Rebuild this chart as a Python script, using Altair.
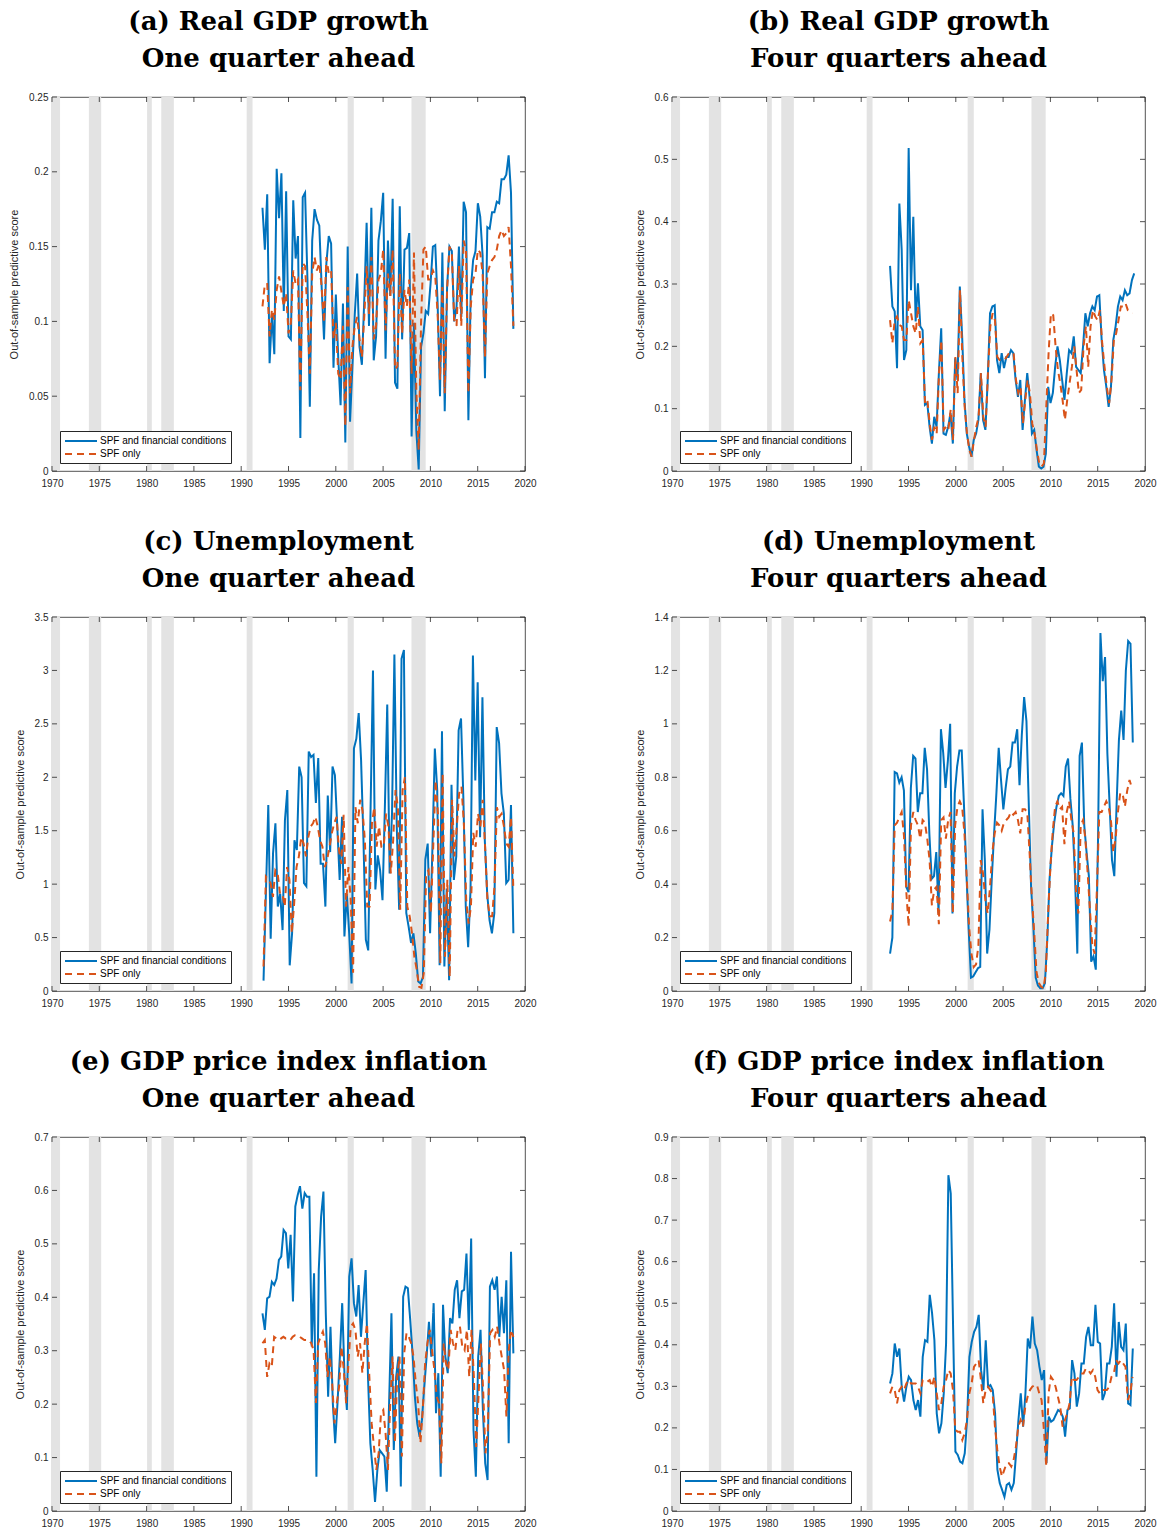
import altair as alt
import numpy as np
import pandas as pd

S1 = "SPF and financial conditions"
S2 = "SPF only"
BLUE = "#0072BD"
RED = "#D95319"
YTITLE = "Out-of-sample predictive score"

year_ticks = [1970, 1975, 1980, 1985, 1990, 1995, 2000, 2005, 2010, 2015, 2020]
rec_start = [1969.9, 1973.9, 1980.05, 1981.55, 1990.58, 2001.25, 2008.0]
rec_end = [1970.85, 1975.2, 1980.55, 1982.88, 1991.2, 2001.9, 2009.5]

titles = [
    ["(a) Real GDP growth", "One quarter ahead"],
    ["(b) Real GDP growth", "Four quarters ahead"],
    ["(c) Unemployment", "One quarter ahead"],
    ["(d) Unemployment", "Four quarters ahead"],
    ["(e) GDP price index inflation", "One quarter ahead"],
    ["(f) GDP price index inflation", "Four quarters ahead"],
]

a_blue = [0.176,0.148,0.185,0.072,0.105,0.078,0.202,0.169,0.199,0.107,0.187,0.090,0.088,0.181,0.142,0.157,0.022,0.183,0.186,0.128,0.043,0.154,0.175,0.168,0.164,0.123,0.088,0.139,0.157,0.152,0.069,0.118,0.076,0.044,0.112,0.019,0.150,0.033,0.070,0.105,0.132,0.083,0.071,0.114,0.166,0.097,0.176,0.074,0.090,0.154,0.167,0.186,0.075,0.154,0.117,0.182,0.059,0.055,0.177,0.088,0.148,0.149,0.159,0.023,0.099,0.027,0.001,0.083,0.092,0.107,0.105,0.125,0.150,0.151,0.112,0.050,0.146,0.040,0.123,0.150,0.147,0.100,0.110,0.150,0.103,0.180,0.173,0.034,0.121,0.141,0.147,0.179,0.170,0.144,0.062,0.163,0.162,0.173,0.173,0.180,0.179,0.195,0.195,0.198,0.211,0.186,0.095]
a_red = [0.110,0.125,0.125,0.090,0.108,0.101,0.121,0.130,0.120,0.110,0.119,0.092,0.099,0.134,0.125,0.128,0.054,0.139,0.137,0.105,0.065,0.132,0.143,0.134,0.139,0.123,0.099,0.143,0.132,0.134,0.088,0.099,0.065,0.061,0.097,0.030,0.123,0.052,0.083,0.097,0.103,0.088,0.076,0.103,0.137,0.105,0.143,0.088,0.097,0.128,0.132,0.148,0.094,0.132,0.117,0.148,0.068,0.070,0.132,0.092,0.121,0.110,0.128,0.065,0.146,0.054,0.014,0.099,0.148,0.150,0.128,0.128,0.134,0.130,0.105,0.061,0.123,0.052,0.121,0.150,0.146,0.101,0.097,0.137,0.097,0.154,0.148,0.052,0.110,0.128,0.132,0.148,0.146,0.132,0.076,0.132,0.137,0.141,0.143,0.148,0.157,0.161,0.157,0.159,0.163,0.137,0.097]

b_blue = [0.329,0.264,0.256,0.165,0.429,0.355,0.178,0.194,0.518,0.290,0.408,0.240,0.301,0.232,0.226,0.106,0.109,0.071,0.044,0.087,0.071,0.157,0.229,0.060,0.058,0.071,0.093,0.044,0.181,0.146,0.296,0.216,0.114,0.060,0.039,0.023,0.050,0.060,0.082,0.157,0.082,0.066,0.146,0.253,0.264,0.266,0.178,0.157,0.189,0.165,0.183,0.183,0.194,0.189,0.146,0.119,0.146,0.066,0.114,0.157,0.119,0.060,0.066,0.034,0.007,0.004,0.007,0.028,0.135,0.109,0.125,0.167,0.200,0.178,0.146,0.114,0.157,0.194,0.189,0.216,0.167,0.162,0.157,0.200,0.253,0.232,0.253,0.264,0.258,0.280,0.282,0.210,0.162,0.135,0.103,0.135,0.210,0.232,0.264,0.280,0.274,0.290,0.282,0.285,0.306,0.317]
b_red = [0.242,0.205,0.242,0.248,0.234,0.232,0.210,0.210,0.274,0.253,0.232,0.221,0.264,0.205,0.210,0.109,0.114,0.076,0.050,0.071,0.060,0.157,0.210,0.066,0.071,0.066,0.098,0.050,0.183,0.125,0.290,0.183,0.103,0.060,0.034,0.023,0.050,0.071,0.087,0.157,0.087,0.071,0.157,0.232,0.253,0.242,0.183,0.178,0.178,0.178,0.183,0.189,0.189,0.189,0.146,0.125,0.135,0.076,0.114,0.146,0.125,0.076,0.060,0.034,0.012,0.007,0.012,0.103,0.189,0.253,0.250,0.200,0.162,0.141,0.114,0.082,0.114,0.141,0.167,0.200,0.162,0.125,0.130,0.200,0.232,0.167,0.232,0.258,0.248,0.242,0.258,0.205,0.167,0.135,0.109,0.146,0.210,0.221,0.242,0.264,0.264,0.269,0.258,0.256,0.253]

c_blue = [0.097,0.914,1.74,0.49,1.29,1.57,0.79,0.91,0.57,1.60,1.88,0.24,0.54,1.41,1.32,2.10,2.00,1.01,0.98,2.24,2.19,2.21,1.76,2.18,1.19,1.19,0.79,1.83,1.30,2.10,2.02,1.54,1.04,1.63,0.51,0.91,0.54,0.07,2.27,2.36,2.60,2.16,1.41,0.48,0.38,1.72,3.00,0.95,1.27,1.13,0.85,1.72,2.68,1.10,1.66,3.15,1.54,0.76,3.11,3.19,0.73,0.60,0.45,0.54,0.35,0.09,0.07,0.13,1.23,1.38,0.54,1.35,2.27,1.88,0.24,2.43,0.23,0.96,0.10,1.93,1.04,1.26,2.44,2.55,1.79,0.79,0.41,0.95,3.14,1.97,2.89,1.44,2.75,1.41,0.91,0.66,0.54,0.73,2.47,2.32,1.85,1.66,1.01,1.04,1.74,0.54]
c_red = [0.23,1.07,1.04,1.01,0.88,1.13,1.10,0.91,0.91,0.79,1.16,1.04,0.54,0.82,1.16,1.26,1.44,1.38,1.26,1.44,1.54,1.57,1.63,1.54,1.41,1.35,1.16,1.23,1.35,1.48,1.57,1.63,1.32,1.19,1.65,0.79,1.16,0.85,0.17,1.72,1.57,1.79,1.69,1.41,0.79,0.79,1.57,1.72,1.35,1.54,1.35,1.35,1.66,1.54,1.10,1.41,1.88,1.72,0.76,1.88,2.00,0.79,0.70,0.54,0.32,0.20,0.04,0.03,0.17,1.10,1.13,0.73,1.35,1.97,1.66,0.26,2.04,0.32,1.04,0.13,1.79,1.26,1.54,1.85,1.91,1.57,0.85,0.63,0.79,1.48,1.35,1.66,1.54,1.79,1.35,0.85,0.70,0.70,0.98,1.72,1.63,1.66,1.54,1.38,1.35,1.63,0.95]

d_blue = [0.14,0.20,0.82,0.815,0.78,0.80,0.75,0.39,0.37,0.76,0.88,0.87,0.67,0.74,0.74,0.91,0.83,0.59,0.42,0.43,0.52,0.29,0.98,0.89,0.76,0.86,1.00,0.29,0.74,0.84,0.90,0.90,0.69,0.45,0.23,0.05,0.055,0.07,0.085,0.09,0.68,0.49,0.14,0.23,0.42,0.59,0.74,0.91,0.79,0.68,0.76,0.83,0.84,0.93,0.93,0.98,0.77,0.96,1.10,1.01,0.70,0.39,0.24,0.05,0.02,0.01,0.01,0.03,0.19,0.42,0.54,0.63,0.69,0.73,0.74,0.73,0.84,0.87,0.72,0.62,0.43,0.14,0.88,0.93,0.62,0.52,0.43,0.11,0.13,0.08,0.59,1.34,1.16,1.25,0.89,0.69,0.49,0.43,0.70,0.94,1.05,0.94,1.20,1.31,1.30,0.93]
d_red = [0.26,0.30,0.62,0.63,0.65,0.67,0.58,0.37,0.24,0.62,0.67,0.64,0.62,0.57,0.64,0.63,0.57,0.49,0.32,0.38,0.39,0.25,0.64,0.65,0.57,0.64,0.67,0.29,0.62,0.69,0.71,0.69,0.59,0.42,0.24,0.14,0.09,0.10,0.17,0.49,0.44,0.34,0.29,0.39,0.52,0.59,0.63,0.62,0.60,0.63,0.64,0.65,0.67,0.66,0.67,0.64,0.59,0.68,0.68,0.67,0.52,0.35,0.22,0.07,0.03,0.016,0.01,0.07,0.29,0.47,0.60,0.69,0.71,0.68,0.69,0.55,0.67,0.71,0.64,0.59,0.37,0.29,0.62,0.64,0.57,0.44,0.30,0.17,0.14,0.39,0.67,0.67,0.69,0.71,0.69,0.64,0.52,0.57,0.67,0.74,0.74,0.69,0.75,0.79,0.76]

e_blue = [0.370,0.339,0.398,0.401,0.429,0.423,0.435,0.470,0.476,0.526,0.520,0.454,0.517,0.392,0.570,0.591,0.608,0.566,0.595,0.588,0.588,0.308,0.445,0.064,0.451,0.551,0.598,0.370,0.214,0.345,0.202,0.127,0.202,0.289,0.389,0.251,0.189,0.439,0.473,0.389,0.364,0.423,0.326,0.389,0.451,0.251,0.127,0.077,0.017,0.077,0.114,0.108,0.102,0.036,0.202,0.370,0.114,0.251,0.289,0.046,0.401,0.420,0.417,0.358,0.295,0.214,0.164,0.139,0.170,0.233,0.289,0.354,0.289,0.389,0.183,0.258,0.064,0.386,0.289,0.258,0.361,0.351,0.414,0.432,0.361,0.411,0.414,0.482,0.339,0.510,0.152,0.064,0.289,0.339,0.189,0.089,0.058,0.420,0.432,0.414,0.439,0.326,0.401,0.333,0.432,0.127,0.485,0.295]
e_red = [0.314,0.320,0.251,0.276,0.270,0.326,0.323,0.326,0.323,0.326,0.323,0.323,0.320,0.326,0.329,0.329,0.326,0.323,0.320,0.320,0.320,0.314,0.301,0.202,0.314,0.326,0.336,0.314,0.251,0.289,0.239,0.164,0.202,0.233,0.308,0.264,0.202,0.276,0.345,0.351,0.339,0.289,0.314,0.258,0.314,0.351,0.251,0.164,0.120,0.077,0.108,0.183,0.189,0.145,0.077,0.202,0.289,0.127,0.251,0.289,0.102,0.295,0.333,0.326,0.314,0.289,0.239,0.202,0.127,0.189,0.276,0.314,0.339,0.301,0.264,0.214,0.202,0.089,0.314,0.276,0.264,0.339,0.314,0.301,0.339,0.345,0.308,0.301,0.339,0.251,0.339,0.251,0.120,0.214,0.314,0.226,0.108,0.152,0.333,0.339,0.326,0.345,0.314,0.289,0.264,0.177,0.301,0.339,0.326]

f_blue = [0.307,0.331,0.403,0.371,0.391,0.299,0.263,0.299,0.323,0.315,0.267,0.243,0.267,0.227,0.371,0.411,0.407,0.520,0.476,0.411,0.235,0.187,0.211,0.283,0.403,0.808,0.764,0.443,0.143,0.135,0.119,0.115,0.139,0.219,0.371,0.407,0.431,0.443,0.472,0.339,0.291,0.411,0.299,0.303,0.291,0.235,0.099,0.067,0.051,0.034,0.063,0.067,0.051,0.067,0.139,0.219,0.283,0.203,0.283,0.415,0.391,0.468,0.403,0.387,0.347,0.315,0.339,0.115,0.227,0.215,0.219,0.231,0.243,0.239,0.227,0.179,0.243,0.247,0.363,0.331,0.251,0.283,0.355,0.355,0.419,0.443,0.399,0.399,0.496,0.407,0.403,0.267,0.283,0.355,0.355,0.395,0.500,0.323,0.455,0.395,0.387,0.451,0.259,0.255,0.391]
f_red = [0.283,0.299,0.291,0.259,0.291,0.299,0.291,0.307,0.315,0.307,0.307,0.307,0.299,0.283,0.315,0.315,0.311,0.315,0.299,0.323,0.283,0.243,0.259,0.299,0.315,0.339,0.331,0.291,0.195,0.191,0.191,0.171,0.187,0.219,0.283,0.307,0.347,0.355,0.363,0.315,0.259,0.291,0.299,0.291,0.283,0.203,0.147,0.107,0.083,0.099,0.115,0.115,0.107,0.123,0.155,0.203,0.219,0.203,0.251,0.275,0.291,0.299,0.303,0.303,0.283,0.267,0.195,0.107,0.283,0.323,0.315,0.299,0.275,0.251,0.203,0.219,0.235,0.259,0.323,0.315,0.315,0.323,0.331,0.331,0.343,0.339,0.331,0.339,0.323,0.291,0.283,0.291,0.291,0.291,0.299,0.323,0.331,0.363,0.355,0.363,0.355,0.347,0.267,0.283,0.323]

# first / last observation dates (decimal years) of each series
spans = [
    ((1992.25, 2018.77), (1992.25, 2018.77)),
    ((1993.05, 2018.86), (1993.05, 2018.68)),
    ((1992.36, 2018.77), (1992.36, 2018.77)),
    ((1993.05, 2018.71), (1993.05, 2018.61)),
    ((1992.25, 2018.77), (1992.25, 2018.77)),
    ((1993.05, 2018.71), (1993.05, 2018.68)),
]
y_ticks = [
    [0, 0.05, 0.1, 0.15, 0.2, 0.25],
    [0, 0.1, 0.2, 0.3, 0.4, 0.5, 0.6],
    [0, 0.5, 1, 1.5, 2, 2.5, 3, 3.5],
    [0, 0.2, 0.4, 0.6, 0.8, 1, 1.2, 1.4],
    [0, 0.1, 0.2, 0.3, 0.4, 0.5, 0.6, 0.7],
    [0, 0.1, 0.2, 0.3, 0.4, 0.5, 0.6, 0.7, 0.8, 0.9],
]
series = [(a_blue, a_red), (b_blue, b_red), (c_blue, c_red),
          (d_blue, d_red), (e_blue, e_red), (f_blue, f_red)]

W, H = 473, 374
FONT = "Liberation Sans"
AXC = "#262626"
TL = 5

rec_df = pd.DataFrame({"start": rec_start, "end": rec_end})
xt_df = pd.DataFrame({"t": year_ticks})


def panel(i):
    blue, red = series[i]
    (b0, b1), (r0, r1) = spans[i]
    yt = y_ticks[i]
    ymax = yt[-1]
    df = pd.DataFrame({
        "year": np.concatenate([np.linspace(b0, b1, len(blue)), np.linspace(r0, r1, len(red))]),
        "value": list(blue) + list(red),
        "series": [S1] * len(blue) + [S2] * len(red),
    })
    yt_df = pd.DataFrame({"t": yt})
    xs = alt.Scale(domain=[1970, 2020], nice=False, zero=False)
    ys = alt.Scale(domain=[0, ymax], nice=False, zero=True)
    xax = alt.Axis(values=year_ticks, format="d", title=None, domain=False, ticks=False,
                   grid=False, labelPadding=7, labelFontSize=10, labelFont=FONT,
                   labelColor=AXC, labelFlush=False)
    yax = alt.Axis(values=yt, format="~g", title=YTITLE, domain=False, ticks=False, grid=False,
                   labelPadding=4, labelFontSize=10, labelFont=FONT, labelColor=AXC,
                   titleFont=FONT, titleFontSize=11, titleFontWeight="normal",
                   titleColor=AXC, titlePadding=9, labelFlush=False)
    X = lambda f: alt.X(f, scale=xs, axis=xax)
    Y = lambda f: alt.Y(f, scale=ys, axis=yax)

    leg = alt.Legend(orient="bottom-left", title=None, fillColor="white",
                     strokeColor=AXC, padding=4, offset=8,
                     labelFontSize=10, labelFont=FONT, labelColor="black",
                     symbolType="M-3.2,0H3.2", symbolSize=100, symbolStrokeWidth=2,
                     symbolOffset=11, labelOffset=13, rowPadding=2, cornerRadius=0)

    bands = alt.Chart(rec_df).mark_rect(color="#e3e3e3").encode(
        x=X("start:Q"), x2="end:Q", y=alt.value(0), y2=alt.value(H))
    lines = alt.Chart(df).mark_line(strokeWidth=2, clip=True).encode(
        x=X("year:Q"), y=Y("value:Q"),
        color=alt.Color("series:N", scale=alt.Scale(domain=[S1, S2], range=[BLUE, RED]),
                        legend=leg),
        strokeDash=alt.StrokeDash("series:N",
                                  scale=alt.Scale(domain=[S1, S2], range=[[1, 0], [7, 5]]),
                                  legend=leg),
    )
    xt_bot = alt.Chart(xt_df).mark_rule(color=AXC, strokeWidth=0.8).encode(
        x=X("t:Q"), y=alt.value(H), y2=alt.value(H - TL))
    xt_top = alt.Chart(xt_df).mark_rule(color=AXC, strokeWidth=0.8).encode(
        x=X("t:Q"), y=alt.value(0), y2=alt.value(TL))
    yt_left = alt.Chart(yt_df).mark_rule(color=AXC, strokeWidth=0.8).encode(
        y=Y("t:Q"), x=alt.value(0), x2=alt.value(TL))
    yt_right = alt.Chart(yt_df).mark_rule(color=AXC, strokeWidth=0.8).encode(
        y=Y("t:Q"), x=alt.value(W), x2=alt.value(W - TL))
    return alt.layer(bands, lines, xt_bot, xt_top, yt_left, yt_right).properties(
        width=W, height=H,
        title=alt.TitleParams(text=titles[i], font="DejaVu Serif", fontSize=26,
                              fontWeight="bold", color="black", lineHeight=37,
                              anchor="middle", offset=20, dx=-10),
    )


chart = alt.concat(*[panel(i) for i in range(6)], columns=2,
                   spacing={"row": 39, "column": 96}).resolve_scale(
    x="independent", y="independent", color="independent", strokeDash="independent"
).resolve_legend(color="independent", strokeDash="independent").configure_view(
    stroke=AXC, strokeWidth=0.8
).properties(
    padding={"left": 8, "top": 8, "right": 2, "bottom": 2}, background="white"
)

chart.save("out.html", embed_options={"renderer": "svg", "actions": False})
